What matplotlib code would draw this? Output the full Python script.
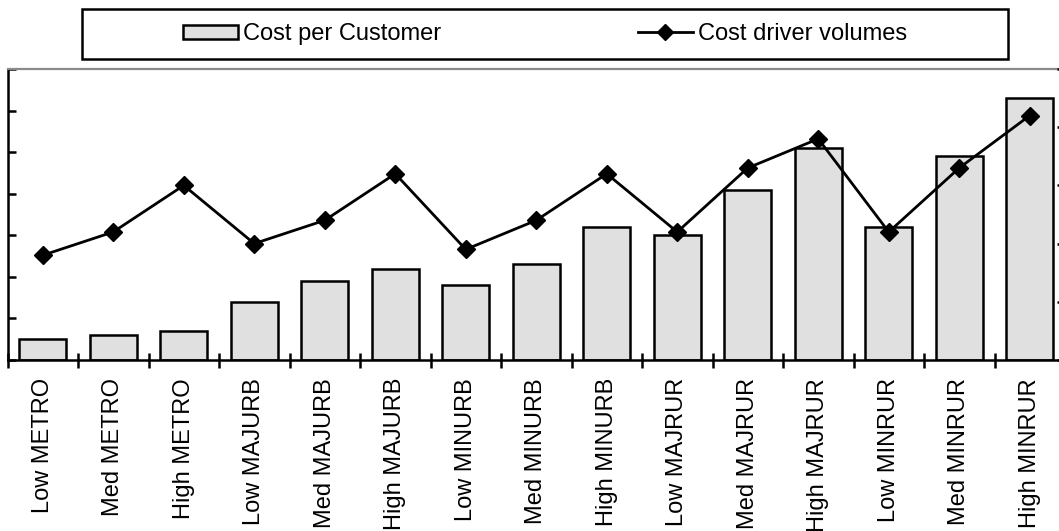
import matplotlib.pyplot as plt
import numpy as np
from matplotlib.patches import Rectangle, Patch
from matplotlib.lines import Line2D

plt.rcParams['font.family'] = ['Liberation Sans', 'DejaVu Sans']

segments = ['Low METRO', 'Med METRO', 'High METRO',
            'Low MAJURB', 'Med MAJURB', 'High MAJURB',
            'Low MINURB', 'Med MINURB', 'High MINURB',
            'Low MAJRUR', 'Med MAJRUR', 'High MAJRUR',
            'Low MINRUR', 'Med MINRUR', 'High MINRUR']
cost_per_customer = [0.5, 0.6, 0.7, 1.4, 1.9, 2.2, 1.8, 2.3, 3.2,
                     3.0, 4.1, 5.1, 3.2, 4.9, 6.3]
driver_volumes = [1.8, 2.2, 3.0, 2.0, 2.4, 3.2, 1.9, 2.4, 3.2,
                  2.2, 3.3, 3.8, 2.2, 3.3, 4.2]

W, H = 1059, 531
fig = plt.figure(figsize=(W / 100, H / 100), dpi=100)

# plot area runs slightly past the right edge of the figure
ax = fig.add_axes([7.5 / W, (H - 360) / H, 1057.5 / W, 291 / H])
ax2 = ax.twinx()

x = np.arange(len(segments))
bar_fill = '#e0e0e0'
ax.bar(x, cost_per_customer, width=0.667, color=bar_fill,
       edgecolor='black', linewidth=1.8, zorder=2)
ax2.plot(x, driver_volumes, color='black', lw=2.0, marker='D', ms=9.5,
         mfc='black', mec='black', zorder=3)

ax.set_xlim(-0.5, len(segments) - 0.5)
ax.set_ylim(0, 7)
ax2.set_ylim(0, 5)

# category labels sit on untouched major ticks, boundary marks on minor ones
ax.set_xticks(x)
ax.set_xticklabels(segments, rotation=90, fontsize=17, va='top')
ax.tick_params(axis='x', which='major', length=0, pad=13)
ax.set_xticks(np.arange(-0.5, len(segments), 1), minor=True)
ax.tick_params(axis='x', which='minor', direction='inout', length=10.8,
               width=1.8, color='black')

ax.set_yticks(np.arange(0, 8))
ax.tick_params(axis='y', direction='in', length=5.8, width=1.8,
               labelleft=False)
ax2.set_yticks(np.arange(0, 6))
ax2.tick_params(axis='y', direction='in', length=5.8, width=1.8,
                labelright=False)

for s in ['left', 'bottom']:
    ax.spines[s].set_linewidth(1.8)
    ax.spines[s].set_color('black')
ax.spines['top'].set_color('#8a8a8a')
ax.spines['top'].set_linewidth(1.6)
ax.spines['right'].set_visible(False)
for s in ax2.spines.values():
    s.set_visible(False)

# legend box across the top
fig.patches.append(Rectangle((81.7 / W, (H - 59) / H), (1008 - 81.7) / W,
                             50 / H, transform=fig.transFigure,
                             fill=False, edgecolor='black', linewidth=1.8))
handles = [Patch(facecolor=bar_fill, edgecolor='black', linewidth=1.8),
           Line2D([], [], color='black', lw=2.0, marker='D', ms=8.5)]
fig.legend(handles, ['Cost per Customer', 'Cost driver volumes'],
           loc='center', bbox_to_anchor=(544.9 / W, 1 - 34 / H), ncol=2,
           frameon=False, fontsize=17, handlelength=2.33, handleheight=0.55,
           handletextpad=0.2, columnspacing=8.35)

fig.savefig('out.png', dpi=100)
